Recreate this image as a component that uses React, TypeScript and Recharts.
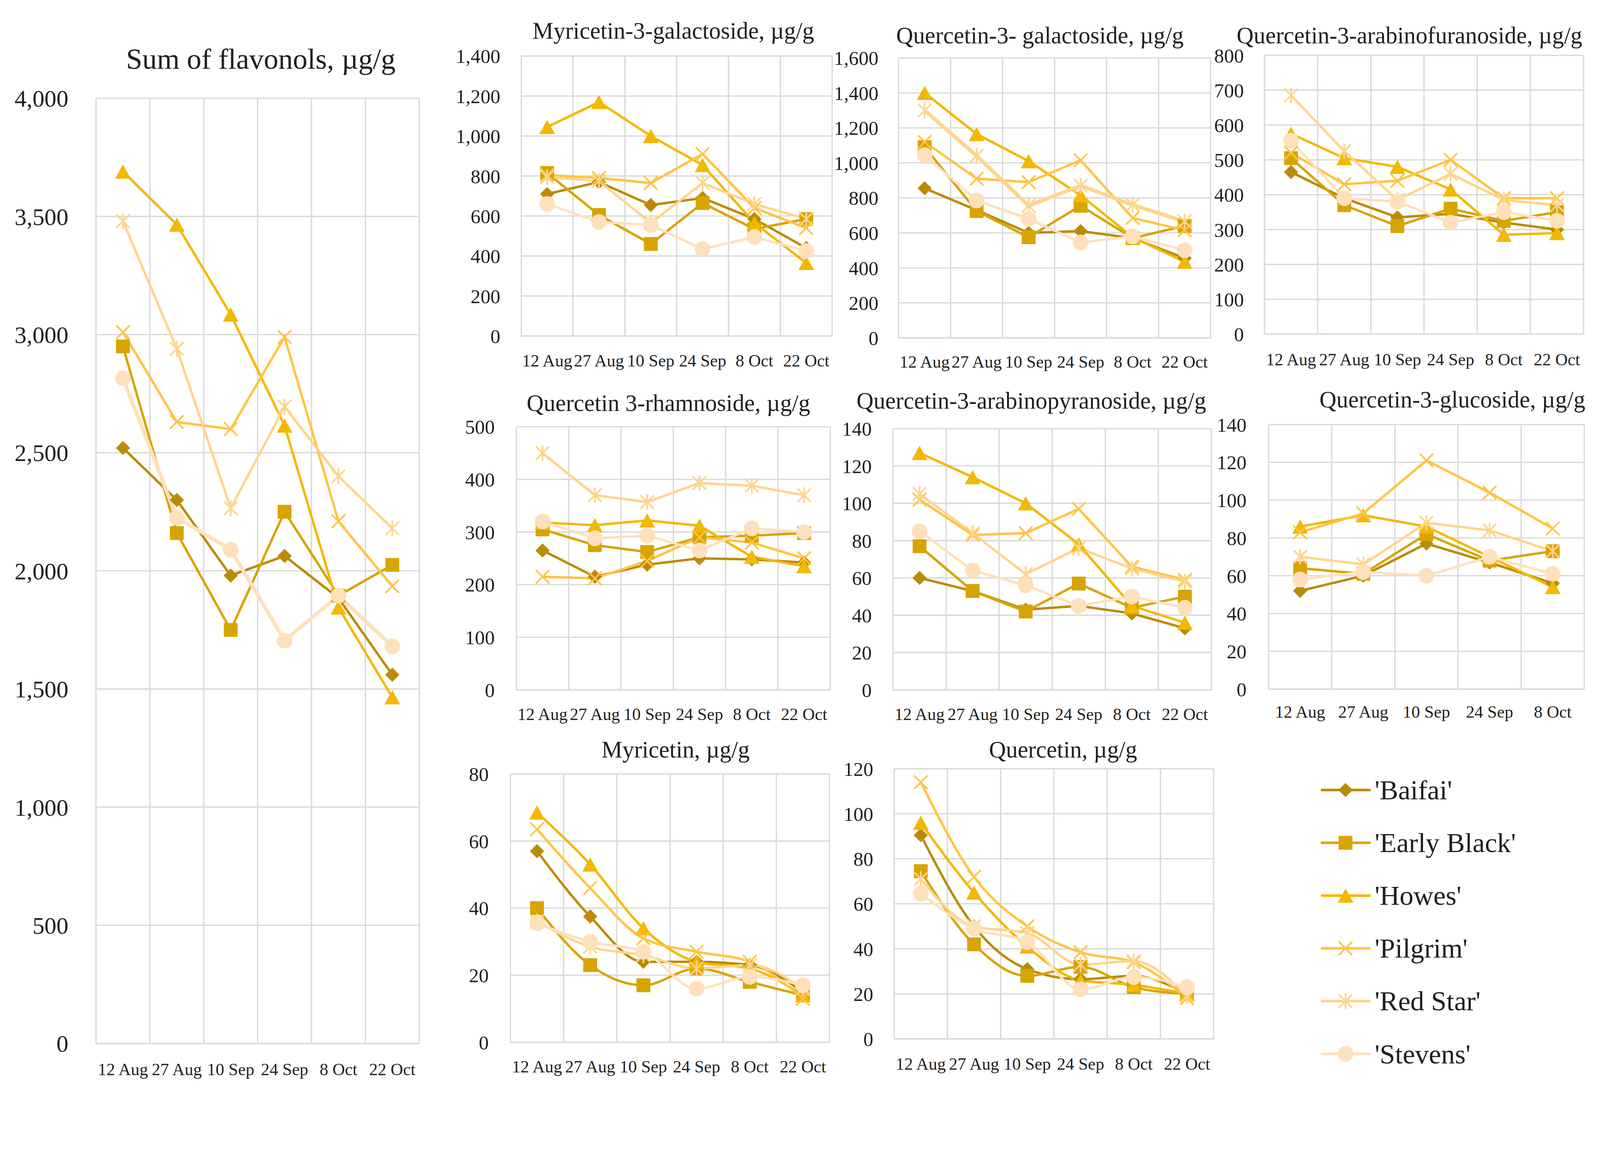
import React from 'react';
import { LineChart, Line, XAxis, YAxis, CartesianGrid } from 'recharts';

const FONT = "'Liberation Serif', 'Times New Roman', serif";
const TEXT = '#1f1f1f';
const GRID = '#d9d9d9';
const PAGE_W = 4282;
const PAGE_H = 2941;

const CULTIVARS = ["'Baifai'", "'Early Black'", "'Howes'", "'Pilgrim'", "'Red Star'", "'Stevens'"];
const COLORS = ['#BC8B06', '#D8A400', '#F3B800', '#FFC443', '#FFD48D', '#FFE0BC'];
const SHAPES = ['diamond', 'square', 'triangle', 'x', 'star', 'circle'];

const DATES = ['12 Aug', '27 Aug', '10 Sep', '24 Sep', '8 Oct', '22 Oct'];
const DATES_GLUC = ['12 Aug', '27 Aug', '10 Sep', '24 Sep', '8 Oct'];

// order of rows: Baifai, Early Black, Howes, Pilgrim, Red Star, Stevens
const sumFlavonols = [
  [2520, 2300, 1980, 2063, 1885, 1560],
  [2950, 2160, 1750, 2250, 1895, 2025],
  [3690, 3465, 3085, 2615, 1845, 1465],
  [3010, 2630, 2600, 2990, 2210, 1935],
  [3480, 2940, 2265, 2695, 2400, 2180],
  [2815, 2225, 2090, 1705, 1895, 1680],
];
const myricetinGalactoside = [
  [710, 770, 655, 690, 585, 440],
  [815, 605, 460, 665, 535, 585],
  [1045, 1170, 1000, 855, 565, 365],
  [805, 790, 765, 910, 640, 540],
  [795, 775, 565, 765, 660, 585],
  [660, 570, 555, 435, 495, 425],
];
const quercetinGalactoside = [
  [855, 730, 600, 610, 570, 455],
  [1090, 725, 575, 755, 570, 640],
  [1400, 1165, 1010, 815, 575, 435],
  [1120, 910, 890, 1015, 685, 615],
  [1300, 1040, 755, 870, 760, 665],
  [1045, 785, 680, 545, 580, 500],
];
const quercetinArabinofuranoside = [
  [465, 390, 335, 345, 320, 300],
  [505, 370, 310, 360, 325, 350],
  [575, 505, 480, 415, 285, 290],
  [520, 430, 440, 500, 390, 390],
  [685, 525, 385, 460, 385, 370],
  [555, 390, 380, 320, 350, 325],
];
const quercetinRhamnoside = [
  [265, 215, 238, 250, 248, 242],
  [305, 275, 262, 290, 293, 298],
  [318, 313, 322, 312, 253, 235],
  [215, 212, 245, 290, 280, 250],
  [450, 370, 357, 393, 388, 370],
  [320, 288, 293, 265, 307, 300],
];
const quercetinArabinopyranoside = [
  [60, 53, 43, 45, 41, 33],
  [77, 53, 42, 57, 44, 50],
  [127, 114, 100, 78, 45, 36],
  [102, 83, 84, 97, 66, 59],
  [105, 84, 62, 76, 65, 58],
  [85, 64, 56, 45, 50, 44],
];
const quercetinGlucoside = [
  [52, 60, 77, 67, 56],
  [64, 61, 82, 68, 73],
  [86, 92, 86, 70, 54],
  [83, 93, 121, 104, 85],
  [70, 66, 88, 84, 73],
  [58, 62, 60, 70, 61],
];
const myricetin = [
  [57, 37.5, 24, 24, 23, 15],
  [40, 23, 17, 22, 18, 14],
  [68.5, 53, 34, 24, 22, 14],
  [63.5, 46, 31, 27, 24, 13],
  [36, 28.5, 26, 22, 23, 16],
  [35.5, 30, 27, 16, 19.5, 17],
];
const quercetin = [
  [90.5, 50, 31, 26.5, 28, 20],
  [74.5, 42, 28, 32, 23, 20],
  [96, 65, 41, 26, 24, 20],
  [114, 72, 50, 38.5, 34, 18],
  [71, 50, 47, 33, 34.5, 19],
  [64.5, 49, 43, 22, 27.5, 23],
];

const TICKS_SUM = [0, 500, 1000, 1500, 2000, 2500, 3000, 3500, 4000];
const TICKS_1400 = [0, 200, 400, 600, 800, 1000, 1200, 1400];
const TICKS_1600 = [0, 200, 400, 600, 800, 1000, 1200, 1400, 1600];
const TICKS_800 = [0, 100, 200, 300, 400, 500, 600, 700, 800];
const TICKS_500 = [0, 100, 200, 300, 400, 500];
const TICKS_140 = [0, 20, 40, 60, 80, 100, 120, 140];
const TICKS_80 = [0, 20, 40, 60, 80];
const TICKS_120 = [0, 20, 40, 60, 80, 100, 120];

function Marker({ shape, cx, cy, color }: any) {
  if (cx == null || cy == null || isNaN(cx) || isNaN(cy)) return <g />;
  switch (shape) {
    case 'diamond': {
      const d = 19;
      return <path d={`M${cx},${cy - d}L${cx + d},${cy}L${cx},${cy + d}L${cx - d},${cy}Z`} fill={color} />;
    }
    case 'square': {
      const h = 18.5;
      return <rect x={cx - h} y={cy - h} width={2 * h} height={2 * h} fill={color} />;
    }
    case 'triangle': {
      const w = 21, ht = 19;
      return <path d={`M${cx},${cy - ht}L${cx + w},${cy + ht}L${cx - w},${cy + ht}Z`} fill={color} />;
    }
    case 'x': {
      const h = 18;
      return (
        <g stroke={color} strokeWidth={4.5}>
          <line x1={cx - h} y1={cy - h} x2={cx + h} y2={cy + h} />
          <line x1={cx - h} y1={cy + h} x2={cx + h} y2={cy - h} />
        </g>
      );
    }
    case 'star': {
      const h = 18;
      return (
        <g stroke={color} strokeWidth={4.5}>
          <line x1={cx - h} y1={cy - h} x2={cx + h} y2={cy + h} />
          <line x1={cx - h} y1={cy + h} x2={cx + h} y2={cy - h} />
          <line x1={cx} y1={cy - h - 3} x2={cx} y2={cy + h + 3} />
        </g>
      );
    }
    default:
      return <circle cx={cx} cy={cy} r={21} fill={color} />;
  }
}

function Panel(p: any) {
  const yw = p.yw ?? 200;
  const mt = 50, mr = 20, xh = 130;
  const n = p.cats.length;
  const plotW = p.R - p.L;
  const width = plotW + yw + mr;
  const height = p.B - p.T + mt + xh;
  const data = p.cats.map((c: string, i: number) => {
    const row: any = { date: c };
    p.series.forEach((s: number[], j: number) => { row['s' + j] = s[i]; });
    return row;
  });
  const max = p.ticks[p.ticks.length - 1];
  const vGen = () => Array.from({ length: n + 1 }, (_, i) => yw + (i * plotW) / n);
  const widths = p.widths ?? [6.5, 6.5, 6.5, 6.5, 6.5, 6.5];
  return (
    <>
      <div style={{ position: 'absolute', left: p.L - yw, top: p.T - mt, width, height }}>
        <LineChart width={width} height={height} data={data} margin={{ top: mt, right: mr, left: 0, bottom: 0 }}>
          <CartesianGrid stroke={GRID} strokeWidth={3.5} verticalCoordinatesGenerator={vGen} />
          <XAxis dataKey="date" scale="band" interval={0} tickLine={false} tickSize={0} tickMargin={p.xGap}
            axisLine={{ stroke: GRID, strokeWidth: 3.5 }} height={xh}
            tick={{ fontSize: p.xFont ?? 46, fill: TEXT, fontFamily: FONT }} />
          <YAxis type="number" domain={[0, max]} ticks={p.ticks} interval={0} width={yw}
            axisLine={false} tickLine={false} tickSize={0} tickMargin={p.yGap}
            tick={{ fontSize: p.yFont ?? 53, fill: TEXT, fontFamily: FONT }}
            tickFormatter={(v: number) => v.toLocaleString('en-US')} />
          {p.series.map((s: number[], j: number) => (
            <Line key={j} dataKey={'s' + j} type={p.curve ?? 'linear'} stroke={COLORS[j]} strokeWidth={widths[j]}
              isAnimationActive={false} activeDot={false}
              dot={(d: any) => <Marker key={'m' + j + '-' + d.index} shape={SHAPES[j]} cx={d.cx} cy={d.cy} color={COLORS[j]} />} />
          ))}
        </LineChart>
      </div>
      <div style={{
        position: 'absolute', left: p.titleX, top: p.titleY, transform: 'translate(-50%, -50%)',
        fontSize: p.titleSize ?? 63, whiteSpace: 'nowrap', lineHeight: 1.2, color: TEXT, fontFamily: FONT,
      }}>{p.title}</div>
    </>
  );
}

const PANELS = [
  { title: 'Sum of flavonols, µg/g', titleX: 698, titleY: 158, titleSize: 78, L: 257, T: 263, R: 1122, B: 2792,
    cats: DATES, series: sumFlavonols, ticks: TICKS_SUM, yw: 220, yGap: 74, yFont: 64, xGap: 52,
    widths: [6.5, 6.5, 6.5, 6.5, 6.5, 10] },
  { title: 'Myricetin-3-galactoside, µg/g', titleX: 1802, titleY: 83, L: 1395, T: 150, R: 2227, B: 899,
    cats: DATES, series: myricetinGalactoside, ticks: TICKS_1400, yGap: 56, xGap: 49 },
  { title: 'Quercetin-3- galactoside, µg/g', titleX: 2783, titleY: 96, L: 2405, T: 155, R: 3240, B: 904,
    cats: DATES, series: quercetinGalactoside, ticks: TICKS_1600, yGap: 54, xGap: 47,
    widths: [6.5, 6.5, 6.5, 6.5, 10, 6.5] },
  { title: 'Quercetin-3-arabinofuranoside, µg/g', titleX: 3772, titleY: 96, L: 3384, T: 148, R: 4238, B: 894,
    cats: DATES, series: quercetinArabinofuranoside, ticks: TICKS_800, yGap: 55, xGap: 51 },
  { title: 'Quercetin 3-rhamnoside, µg/g', titleX: 1789, titleY: 1080, L: 1382, T: 1142, R: 2222, B: 1846,
    cats: DATES, series: quercetinRhamnoside, ticks: TICKS_500, yGap: 58, xGap: 48 },
  { title: 'Quercetin-3-arabinopyranoside, µg/g', titleX: 2760, titleY: 1073, L: 2390, T: 1147, R: 3242, B: 1846,
    cats: DATES, series: quercetinArabinopyranoside, ticks: TICKS_140, yGap: 57, xGap: 48 },
  { title: 'Quercetin-3-glucoside, µg/g', titleX: 3887, titleY: 1070, L: 3395, T: 1136, R: 4240, B: 1844,
    cats: DATES_GLUC, series: quercetinGlucoside, ticks: TICKS_140, yGap: 59, xGap: 44 },
  { title: 'Myricetin, µg/g', titleX: 1808, titleY: 2007, L: 1366, T: 2071, R: 2220, B: 2789,
    cats: DATES, series: myricetin, ticks: TICKS_80, yGap: 58, xGap: 48, curve: 'monotone' },
  { title: 'Quercetin, µg/g', titleX: 2845, titleY: 2007, L: 2393, T: 2057, R: 3248, B: 2780,
    cats: DATES, series: quercetin, ticks: TICKS_120, yGap: 56, xGap: 50, curve: 'monotone' },
];

function LegendBox() {
  const x1 = 3535, x2 = 3668, mx = 3601, tx = 3679, y0 = 2114, dy = 141.2;
  return (
    <svg style={{ position: 'absolute', left: 3450, top: 2030, pointerEvents: 'none', overflow: 'visible' }}
      width={820} height={880} viewBox="3450 2030 820 880">
      {CULTIVARS.map((c, j) => {
        const y = y0 + j * dy;
        return (
          <g key={c}>
            <line x1={x1} x2={x2} y1={y} y2={y} stroke={COLORS[j]} strokeWidth={7} />
            <Marker shape={SHAPES[j]} cx={mx} cy={y} color={COLORS[j]} />
            <text x={tx} y={y} dominantBaseline="central" fontSize={74} fontFamily={FONT} fill={TEXT}>{c}</text>
          </g>
        );
      })}
    </svg>
  );
}

function getScale() {
  if (typeof window === 'undefined') return 1;
  const w = window.innerWidth || PAGE_W;
  const h = window.innerHeight || PAGE_H;
  const k = Math.min(w / PAGE_W, h / PAGE_H);
  return k > 0 && k < 2 ? k : 1;
}

export default function App() {
  const k = getScale();
  return (
    <div style={{ position: 'absolute', left: 0, top: 0, width: PAGE_W * k, height: PAGE_H * k, overflow: 'hidden', background: '#fff' }}>
      <div style={{
        position: 'absolute', left: 0, top: 0, width: PAGE_W, height: PAGE_H, background: '#fff',
        fontFamily: FONT, transform: `scale(${k})`, transformOrigin: '0 0',
      }}>
        {PANELS.map((p) => <Panel key={p.title} {...p} />)}
        <LegendBox />
      </div>
    </div>
  );
}
